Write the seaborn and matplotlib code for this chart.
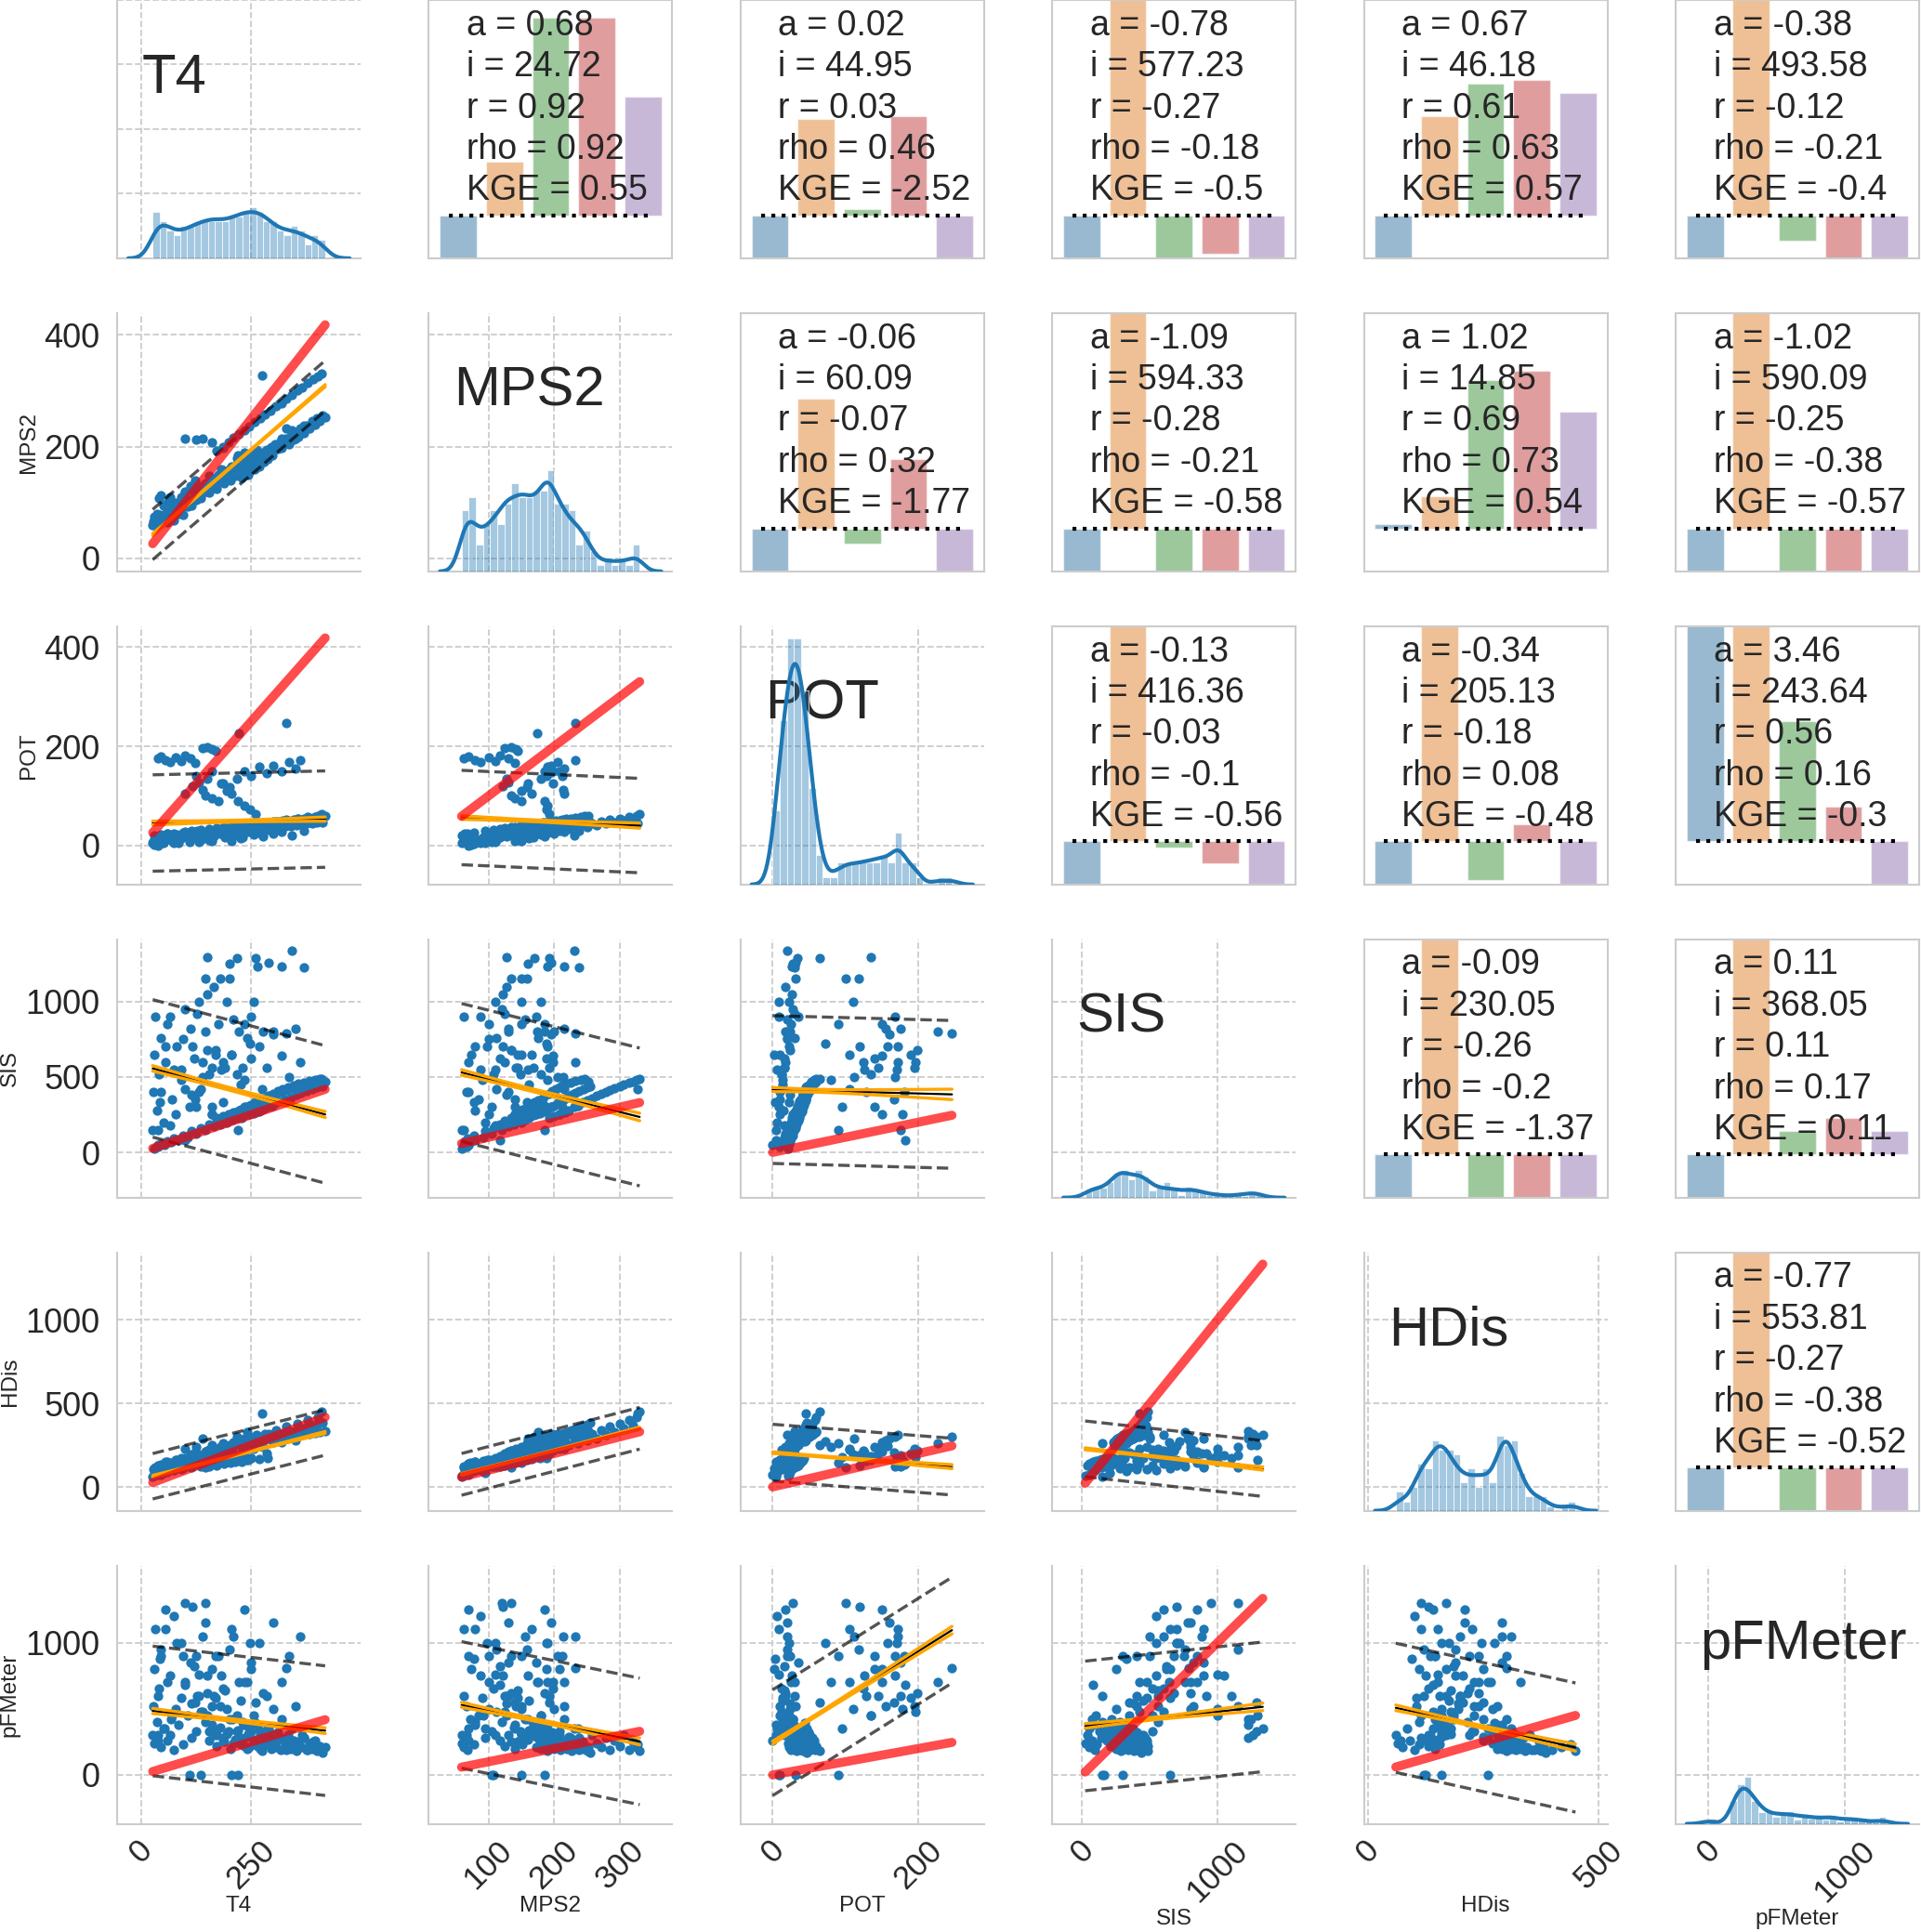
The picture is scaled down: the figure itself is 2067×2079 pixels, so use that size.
import numpy as np
import pandas as pd
import matplotlib
matplotlib.use("Agg")
import matplotlib.pyplot as plt
from matplotlib.ticker import MultipleLocator
import seaborn as sns

names = ["T4", "MPS2", "POT", "SIS", "HDis", "pFMeter"]

# sensor readings, one entry per time step (estimated from the scatter panels)
t4 = [
    # main band
    30, 38, 45, 52, 60, 68, 75, 85, 95, 105, 115, 125, 135, 145, 155, 165, 172, 180, 188, 195,
    202, 208, 214, 220, 226, 232, 238, 244, 250, 255, 260, 265, 270, 275, 280, 285, 290, 295, 300, 305,
    310, 316, 322, 328, 334, 340, 346, 352, 358, 364, 370, 376, 382, 388, 394, 400, 406, 412, 418,
    228, 242, 258, 268, 278, 288, 298, 240, 262,
    # upper MPS2 band
    172, 185, 198, 210, 222, 234, 246, 258, 270, 282, 294, 306, 318, 330, 342, 354, 366, 378, 390, 402, 410, 274,
    # high SIS
    26, 28, 30, 32, 35, 40, 45, 50, 55, 60, 70, 80, 90, 100, 110, 120, 127, 135, 145, 150,
    160, 170, 180, 190, 200, 210, 217, 225, 240, 255, 265, 276, 290, 300, 320, 342, 369, 38, 42, 65,
    75, 95, 115, 130, 155, 165, 185, 205, 230, 250,
    # high POT
    38, 45, 55, 65, 78, 90, 100, 112, 123, 139, 150, 160, 170, 100, 125, 140, 160, 185, 217, 235,
    250, 268, 285, 300, 318, 335, 350, 362, 116, 130, 145, 160, 175, 182, 195, 205, 220, 235, 248, 260,
    150, 200, 221, 330,
]
mps2 = [
    60, 66, 62, 70, 64, 72, 68, 80, 78, 92, 95, 105, 108, 120, 118, 130, 125, 138, 135, 150,
    140, 155, 148, 162, 152, 168, 158, 172, 165, 178, 170, 185, 176, 190, 182, 195, 186, 200, 192, 205,
    196, 210, 202, 215, 208, 220, 212, 226, 218, 232, 225, 238, 232, 245, 240, 250, 246, 255, 252,
    145, 150, 160, 165, 172, 178, 185, 180, 195,
    193, 200, 208, 216, 222, 230, 236, 244, 250, 258, 264, 272, 278, 285, 292, 300, 306, 314, 320, 326, 330, 327,
    59, 66, 74, 63, 80, 108, 112, 95, 70, 100, 85, 98, 90, 120, 105, 118, 125, 112, 130, 122,
    140, 135, 150, 145, 160, 155, 170, 162, 175, 180, 190, 185, 195, 200, 215, 230, 237, 70, 78, 110,
    88, 100, 128, 110, 148, 128, 158, 150, 168, 172,
    62, 70, 80, 88, 100, 110, 118, 130, 140, 125, 135, 142, 144, 215, 212, 214, 208, 198, 180, 185,
    188, 190, 192, 195, 198, 205, 215, 232, 122, 130, 135, 140, 150, 160, 150, 165, 185, 190, 188, 192,
    128, 158, 174, 232,
]
pot = [
    21, 10, 22, 11, 24, 13, 25, 5, 27, 16, 29, 18, 31, 20, 33, 22, 35, 24, 37, 25,
    38, 27, 39, 28, 40, 29, 42, 30, 43, 31, 44, 32, 45, 33, 46, 34, 47, 35, 48, 36,
    49, 37, 50, 39, 51, 40, 53, 41, 54, 42, 55, 44, 56, 45, 57, 46, 59, 47, 60,
    26, 28, 30, 32, 34, 36, 38, 40, 42,
    28, 35, 30, 38, 33, 40, 36, 42, 38, 45, 41, 48, 44, 52, 47, 55, 50, 58, 53, 60, 64, 45,
    5, 10, 2, 8, 15, 12, 20, 6, 18, 25, 10, 22, 14, 28, 8, 16, 30, 12, 20, 26,
    10, 24, 32, 16, 28, 20, 34, 14, 30, 22, 26, 18, 32, 24, 28, 20, 30, 0, 4, 16,
    6, 20, 24, 8, 12, 18, 22, 10, 16, 35,
    175, 180, 172, 168, 178, 170, 182, 176, 166, 196, 198, 194, 190, 105, 140, 112, 150, 125, 135, 150,
    140, 158, 145, 160, 150, 168, 155, 172, 120, 128, 100, 95, 90, 126, 110, 105, 90, 80, 72, 64,
    135, 118, 227, 246,
]
sis = [
    22, 40, 55, 50, 75, 70, 90, 80, 110, 100, 140, 125, 160, 150, 185, 170, 210, 185, 230, 200,
    250, 215, 265, 230, 285, 245, 300, 255, 315, 260, 330, 270, 345, 285, 360, 300, 375, 310, 390, 325,
    405, 340, 420, 350, 430, 365, 445, 380, 455, 395, 465, 405, 475, 420, 480, 430, 485, 440, 470,
    230, 250, 265, 270, 290, 300, 310, 270, 300,
    230, 240, 250, 265, 280, 300, 310, 330, 345, 360, 375, 390, 400, 415, 425, 440, 450, 460, 470, 480, 485, 420,
    150, 400, 650, 900, 280, 520, 760, 200, 600, 850, 350, 700, 480, 950, 300, 620, 920, 420, 800, 1050,
    250, 680, 1150, 560, 1250, 880, 1290, 450, 760, 1000, 1230, 800, 1260, 800, 1230, 1335, 1225, 50, 330, 180,
    550, 750, 380, 1000, 520, 1100, 330, 650, 560, 900,
    150, 400, 700, 900, 250, 550, 80, 820, 350, 600, 680, 560, 650, 420, 300, 500, 250, 600, 520, 850,
    620, 700, 560, 780, 640, 500, 820, 600, 700, 400, 1150, 300, 850, 550, 1000, 650, 150, 480, 720, 1290,
    1296, 1150, 800, 790,
]
hdis = [
    65, 130, 75, 140, 90, 145, 100, 150, 110, 155, 115, 160, 120, 165, 125, 170, 130, 175, 140, 180,
    145, 185, 150, 270, 155, 280, 160, 285, 170, 290, 275, 295, 280, 300, 285, 305, 290, 310, 295, 315,
    300, 320, 300, 325, 305, 330, 310, 340, 310, 345, 315, 355, 320, 365, 325, 375, 330, 385, 335,
    150, 160, 290, 165, 300, 175, 305, 290, 310,
    220, 250, 230, 270, 250, 290, 260, 300, 280, 320, 290, 340, 310, 360, 330, 380, 350, 400, 370, 420, 450, 440,
    60, 105, 110, 115, 110, 130, 120, 85, 140, 150, 115, 160, 105, 170, 125, 185, 200, 140, 210, 190,
    160, 220, 240, 180, 250, 200, 300, 175, 330, 230, 290, 240, 320, 270, 300, 310, 337, 70, 95, 135,
    100, 145, 195, 150, 225, 170, 260, 160, 215, 290,
    120, 135, 150, 125, 160, 175, 140, 190, 205, 180, 215, 230, 200, 230, 240, 290, 250, 220, 185, 210,
    170, 245, 200, 290, 265, 300, 280, 310, 130, 155, 115, 180, 145, 205, 195, 225, 260, 240, 275, 250,
    160, 190, 260, 300,
]
pfmeter = [
    240, 300, 210, 350, 260, 420, 190, 380, 230, 450, 280, 330, 0, 400, 260, 300, 220, 360, 250, 310,
    200, 420, 270, 340, 230, 380, 290, 210, 330, 250, 390, 220, 300, 180, 260, 230, 350, 200, 280, 240,
    320, 190, 270, 230, 300, 200, 260, 180, 250, 210, 280, 190, 240, 200, 260, 180, 220, 170, 210,
    250, 310, 270, 340, 290, 360, 310, 200, 230,
    300, 260, 330, 240, 290, 220, 350, 250, 200, 300, 240, 210, 280, 190, 260, 220, 300, 190, 250, 210, 180, 230,
    300, 520, 800, 1100, 400, 650, 950, 350, 1250, 700, 450, 1000, 580, 1300, 0, 820, 600, 480, 1150, 750,
    380, 900, 520, 640, 420, 1050, 330, 560, 700, 450, 380, 620, 300, 500, 420, 350, 280, 260, 880, 300,
    1200, 900, 540, 760, 330, 600, 280, 0, 400, 850,
    600, 900, 1100, 750, 500, 1000, 680, 850, 550, 480, 620, 520, 580, 700, 900, 1050, 800, 650, 450, 1250,
    800, 1000, 600, 1150, 700, 900, 520, 1050, 1270, 600, 1300, 350, 900, 750, 500, 1100, 0, 700, 1000, 550,
    450, 950, 700, 806,
]

# regression results per pair (x variable -> y variable)
pair_x = ["T4"] * 5 + ["MPS2"] * 4 + ["POT"] * 3 + ["SIS"] * 2 + ["HDis"]
pair_y = ["MPS2", "POT", "SIS", "HDis", "pFMeter",
          "POT", "SIS", "HDis", "pFMeter",
          "SIS", "HDis", "pFMeter",
          "HDis", "pFMeter",
          "pFMeter"]
slope_a = [0.68, 0.02, -0.78, 0.67, -0.38, -0.06, -1.09, 1.02, -1.02, -0.13, -0.34, 3.46, -0.09, 0.11, -0.77]
intercept_i = [24.72, 44.95, 577.23, 46.18, 493.58, 60.09, 594.33, 14.85, 590.09,
               416.36, 205.13, 243.64, 230.05, 368.05, 553.81]
pearson_r = [0.92, 0.03, -0.27, 0.61, -0.12, -0.07, -0.28, 0.69, -0.25, -0.03, -0.18, 0.56, -0.26, 0.11, -0.27]
spearman_rho = [0.92, 0.46, -0.18, 0.63, -0.21, 0.32, -0.21, 0.73, -0.38, -0.1, 0.08, 0.16, -0.2, 0.17, -0.38]
kge = [0.55, -2.52, -0.5, 0.57, -0.4, -1.77, -0.58, 0.54, -0.57, -0.56, -0.48, -0.3, -1.37, 0.11, -0.52]
# half width of the 90% prediction band
pred_band = [45, 97, 456, 136, 490, 95, 457, 125, 478, 490, 170, 400, 167, 490, 488]
n_obs = 3700

bar_names = ["a", "i", "r", "rho", "KGE"]

df = pd.DataFrame({"T4": t4, "MPS2": mps2, "POT": pot, "SIS": sis, "HDis": hdis, "pFMeter": pfmeter})

stats = {}
for k in range(len(pair_x)):
    stats[(pair_x[k], pair_y[k])] = dict(a=slope_a[k], i=intercept_i[k], r=pearson_r[k],
                                         rho=spearman_rho[k], kge=kge[k], band=pred_band[k])

sns.set_style("whitegrid", {"grid.linestyle": "--"})
plt.rcParams["font.family"] = ["Liberation Sans", "DejaVu Sans"]
plt.rcParams["axes.linewidth"] = 1.5
plt.rcParams["grid.linewidth"] = 1.3

blue = "#1f77b4"
xstep = [250, 100, 200, 1000, 500, 1000]
ystep = [0.25, 200, 200, 500, 500, 1000]

fig = plt.figure(figsize=(20.67, 20.79), dpi=100)
gs = fig.add_gridspec(6, 6, left=0.061, right=0.999, bottom=0.056, top=1.0, wspace=0.28, hspace=0.212)

axes = np.empty((6, 6), dtype=object)
colref = {}
rowref = {}
for r in range(6):
    for c in range(6):
        if c > r:
            ax = fig.add_subplot(gs[r, c])
        else:
            ax = fig.add_subplot(gs[r, c], sharex=colref.get(c), sharey=rowref.get(r))
            colref.setdefault(c, ax)
            rowref.setdefault(r, ax)
        axes[r, c] = ax

# lower triangle: scatter + regression lines
for r in range(6):
    for c in range(r):
        ax = axes[r, c]
        xv, yv = names[c], names[r]
        s = stats[(xv, yv)]
        sns.scatterplot(data=df, x=xv, y=yv, ax=ax, s=55, color=blue, linewidth=0, legend=False, zorder=2)
        xs = np.linspace(df[xv].min(), df[xv].max(), 100)
        fit = s["a"] * xs + s["i"]
        res_sd = s["band"] / 1.645
        ci = 1.96 * res_sd * np.sqrt(1 / n_obs + (xs - df[xv].mean()) ** 2 / (n_obs * df[xv].var()))
        for sign in (1, -1):
            ax.plot(xs, fit + sign * s["band"], ls="--", color="k", alpha=0.67, lw=2.4, zorder=3)
        ax.plot(xs, fit, color="k", lw=1.6, zorder=4)
        for sign in (1, -1):
            ax.plot(xs, fit + sign * ci, color="orange", lw=2.4, zorder=5)
        ax.plot(xs, xs, color="red", alpha=0.7, lw=7, solid_capstyle="round", zorder=6)
        ax.spines[["top", "right"]].set_visible(False)

# diagonal: histogram + kde on a twin axis
diag_twins = []
for k, name in enumerate(names):
    ax = axes[k, k]
    tw = ax.twinx()
    sns.histplot(data=df, x=name, ax=tw, stat="density", bins=25, color=blue, alpha=0.4,
                 edgecolor="white", linewidth=0.5)
    sns.kdeplot(data=df, x=name, ax=tw, color=blue, lw=3, bw_adjust=0.5)
    tw.set_axis_off()
    if diag_twins:
        tw.sharey(diag_twins[0])
    diag_twins.append(tw)
    ax.tick_params(left=False, right=False)
    ax.text(0.1, 0.64, name, transform=ax.transAxes, fontsize=43, va="baseline")
    ax.spines[["top", "right"]].set_visible(False)

axes[0, 0].set_ylim(0, 1)

# upper triangle: bars of the fit scores
for r in range(6):
    for c in range(r + 1, 6):
        ax = axes[r, c]
        s = stats[(names[r], names[c])]
        heights = [s["a"] - 1, s["i"] / 100, s["r"], s["rho"], s["kge"]]
        sns.barplot(x=bar_names, y=heights, hue=bar_names, palette="tab10", alpha=0.5, legend=False, ax=ax)
        ax.plot([-0.2, 4.2], [0, 0], color="k", ls=":", lw=3, zorder=5)
        ax.set_xlim(-0.64, 4.64)
        ax.set_ylim(-0.2, 1.0)
        txt = "\n".join([f"a = {s['a']}", f"i = {s['i']}", f"r = {s['r']}",
                         f"rho = {s['rho']}", f"KGE = {s['kge']}"])
        ax.text(0.155, 0.965, txt, transform=ax.transAxes, fontsize=27, va="top", linespacing=1.3, zorder=6)
        ax.set_xticks([])
        ax.set_yticks([])
        ax.grid(False)
        ax.set_xlabel("")
        ax.set_ylabel("")
        for sp in ax.spines.values():
            sp.set_visible(True)
            sp.set_color(".8")

# ticks and labels
for c in range(6):
    colref[c].xaxis.set_major_locator(MultipleLocator(xstep[c]))
for r in range(6):
    rowref[r].yaxis.set_major_locator(MultipleLocator(ystep[r]))

for r in range(6):
    for c in range(r + 1):
        ax = axes[r, c]
        ax.set_xlabel("")
        ax.set_ylabel("")
        ax.tick_params(labelbottom=(r == 5), labelleft=(c == 0 and r > 0))
        ax.tick_params(axis="x", labelrotation=45, pad=5, labelsize=25)
        ax.tick_params(axis="y", pad=10, labelsize=26)
        if r == 5:
            ax.set_xlabel(names[c], fontsize=17.5, labelpad=1)
        if c == 0 and r > 0:
            ax.set_ylabel(names[r], fontsize=17.5)

plt.savefig("out.png", dpi=100)
